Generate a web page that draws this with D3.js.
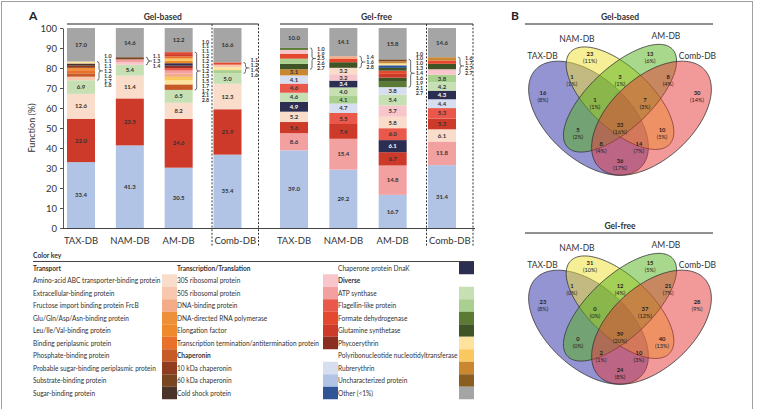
<!DOCTYPE html>
<html><head><meta charset="utf-8">
<script src="https://cdn.jsdelivr.net/npm/d3@7"></script>
<style>
body{margin:0;background:#fff}
svg{display:block;font-family:Lato,"Open Sans","Liberation Sans",sans-serif}
</style></head>
<body><svg id="c" width="758" height="409"></svg>
<script>
// ---------------- DATA ----------------
const dbs = ["TAX-DB","NAM-DB","AM-DB","Comb-DB"];
const groups = ["Gel-based","Gel-free"];
const yTicks = [0,10,20,30,40,50,60,70,80,90,100];

// colour-key categories (code -> label)
const transportCodes = ["T1","T2","T3","T4","T5","T6","T7","T8","T9","T10"];
const transportLabels = ["Amino-acid ABC transporter-binding protein","Extracellular-binding protein","Fructose import binding protein FrcB","Glu/Gln/Asp/Asn-binding protein","Leu/Ile/Val-binding protein","Binding periplasmic protein","Phosphate-binding protein","Probable sugar-binding periplasmic protein","Substrate-binding protein","Sugar-binding protein"];
const transcriptionCodes = ["R1","R2","R3","R4","R5","R6"];
const transcriptionLabels = ["30S ribosomal protein","50S ribosomal protein","DNA-binding protein","DNA-directed RNA polymerase","Elongation factor","Transcription termination/antitermination protein"];
const chaperoninCodes = ["C1","C2","C3","C4"];
const chaperoninLabels = ["10 kDa chaperonin","60 kDa chaperonin","Cold shock protein","Chaperone protein DnaK"];
const diverseCodes = ["D1","D2","D3","D4","D5","D6","D7","D8","D9"];
const diverseLabels = ["ATP synthase","Flagellin-like protein","Formate dehydrogenase","Glutamine synthetase","Phycoerythrin","Polyribonucleotide nucleotidyltransferase","Rubrerythrin","Uncharacterized protein","Other (<1%)"];

// stacked bars, bottom -> top: [category code, %]
const gelBasedTAX  = [["C2",33.4],["R5",22.0],["T1",12.6],["D1",6.9],["T2",1.8],["T7",1.7],["T6",1.6],["T4",1.2],["T8",1.1],["T10",1.1],["D5",1.0],["D9",17.0]];
const gelBasedNAM  = [["C2",41.3],["R5",23.5],["T1",11.4],["D1",5.4],["R1",1.4],["R2",1.3],["T9",1.1],["D9",14.6]];
const gelBasedAM   = [["C2",30.5],["R5",24.6],["T1",8.2],["D1",6.5],["T7",2.8],["D5",2.1],["D6",1.7],["T3",1.7],["R2",1.5],["R3",1.3],["R6",1.2],["C4",1.2],["T5",1.2],["D6",1.2],["T6",1.1],["R5",1.1],["R4",1.0],["D9",12.2]];
const gelBasedComb = [["C2",35.4],["R5",21.9],["T1",12.3],["D1",5.0],["D2",1.6],["D5",1.4],["T2",1.2],["R4",1.1],["D9",16.6]];
const gelFreeTAX   = [["C2",39.0],["R2",8.6],["R5",5.6],["T1",5.2],["C4",4.9],["D1",4.6],["R3",4.6],["C1",4.1],["D7",3.1],["D4",2.7],["D2",2.6],["R4",2.5],["R1",1.9],["D3",1.0],["D9",10.0]];
const gelFreeNAM   = [["C2",29.2],["R2",15.4],["R5",7.4],["R3",5.5],["C1",4.7],["D2",4.1],["D1",4.0],["C4",3.4],["R1",3.2],["T1",3.2],["D4",2.8],["R4",1.6],["T3",1.4],["D9",14.1]];
const gelFreeAM    = [["C2",16.7],["R2",14.8],["R5",6.7],["C4",6.1],["R3",6.0],["T1",5.8],["R1",5.7],["D1",5.4],["C1",3.8],["D3",2.7],["D4",2.1],["R5",1.9],["R4",1.6],["D4",1.4],["C3",1.3],["D5",1.0],["D7",1.0],["T9",1.0],["D9",15.8]];
const gelFreeComb  = [["C2",31.4],["R2",11.8],["T1",6.1],["R5",5.3],["R3",5.3],["C1",4.4],["C4",4.3],["D1",4.2],["D2",3.8],["R1",2.7],["D4",2.7],["R4",1.7],["D7",1.6],["D9",14.6]];

// Venn
const vennSets = ["TAX-DB","NAM-DB","AM-DB","Comb-DB"];
const vennRegions = ["A","B","C","D","AB","BC","CD","ABC","BCD","ABCD","AC","BD","ACD","ABD","AD"];
const gelBasedCounts = [16,23,13,30,1,3,8,1,7,33,5,10,8,14,36];
const gelBasedPct    = [8,11,6,14,1,1,4,1,3,16,2,5,4,7,17];
const gelFreeCounts  = [23,31,15,28,1,12,21,0,37,59,0,40,2,10,24];
const gelFreePct     = [8,10,5,9,0,4,7,0,12,20,0,13,1,3,8];

// ---------------- STYLE / LAYOUT ----------------
const colorOf = {
  T1:"#f9dcc9",T2:"#f7c8ad",T3:"#f3ab88",T4:"#ee8f3a",T5:"#ef8a2c",T6:"#e9702a",T7:"#c75b28",T8:"#903c1e",T9:"#7a4622",T10:"#4a3328",
  R1:"#f8c6ca",R2:"#f3a0a0",R3:"#e9584a",R4:"#e4482e",R5:"#cd3a29",R6:"#8b2e22",
  C1:"#d7def0",C2:"#b1c4e6",C3:"#2f5597",C4:"#2b2e50",
  D1:"#c6e0b4",D2:"#a9d08e",D3:"#5b7b34",D4:"#3f5526",D5:"#fde39e",D6:"#f9c85e",D7:"#c9882f",D8:"#8a5e20",D9:"#a5a5a5"
};
const darkCodes = new Set(["C3","C4","D3","D4","T10","R6","T8"]);
const ink = "#333";
const narrow = 0.9; // horizontal squeeze to mimic a condensed face

const svg = d3.select("#c");
svg.append("rect").attr("x",1.5).attr("y",1.5).attr("width",751).attr("height",412)
  .attr("fill","none").attr("stroke","#a0a0a0");

function ntext(sel, x, yy, s){
  return sel.append("text").attr("transform",`translate(${x},${yy}) scale(${narrow},1)`).text(s);
}

// ---------------- PANEL A ----------------
const y = d3.scaleLinear().domain([0,100]).range([228,28]);
const xs = {
  "Gel-based": d3.scalePoint().domain(dbs).range([81,227.5]),
  "Gel-free":  d3.scalePoint().domain(dbs).range([294,442])
};
const barW = 28;
const bars = {
  "Gel-based": [gelBasedTAX,gelBasedNAM,gelBasedAM,gelBasedComb],
  "Gel-free":  [gelFreeTAX,gelFreeNAM,gelFreeAM,gelFreeComb]
};

svg.append("text").attr("x",29).attr("y",20).attr("font-size",12).attr("font-weight","bold").attr("fill","#222").text("A");

const yAxis = svg.append("g").attr("transform","translate(63,0)")
  .call(d3.axisLeft(y).tickValues(yTicks).tickSize(3).tickSizeOuter(0));
yAxis.selectAll("text").attr("font-size",9.5).attr("fill",ink).attr("font-family","Lato,sans-serif");
yAxis.selectAll("line,path").attr("stroke","#555");
svg.append("text").attr("transform",`translate(35,${y(50)}) rotate(-90)`).attr("text-anchor","middle")
  .attr("font-size",9).attr("fill",ink).text("Function (%)");

svg.append("line").attr("x1",63).attr("x2",475).attr("y1",y(0)+0.5).attr("y2",y(0)+0.5).attr("stroke","#444").attr("stroke-width",1.2);

groups.forEach(g=>{
  const x = xs[g];
  const left = x(dbs[0]) - barW/2, combLeft = x("Comb-DB") - barW/2;
  const boxL = combLeft - 1.5, boxR = combLeft + 45;
  svg.append("line").attr("x1",left).attr("x2",boxR).attr("y1",24).attr("y2",24).attr("stroke","#222").attr("stroke-width",1);
  svg.append("text").attr("x",(left+boxR)/2).attr("y",20).attr("text-anchor","middle").attr("font-size",8.5)
    .attr("font-weight","bold").attr("fill",ink).text(g);
  [boxL, boxR].forEach(xx=>svg.append("line").attr("x1",xx).attr("x2",xx).attr("y1",24).attr("y2",246)
     .attr("stroke","#333").attr("stroke-dasharray","2,1.6").attr("stroke-width",1));
  bars[g].forEach((segs,i)=>{
    const db = dbs[i];
    const cx = x(db), x0 = cx - barW/2;
    const total = d3.sum(segs, d=>d[1]);
    let cum = 0;
    const rows = segs.map(([code,v])=>{const r={code,v,a:cum/total*100,b:(cum+v)/total*100}; cum+=v; return r;});
    const gb = svg.append("g");
    gb.selectAll("rect").data(rows).join("rect")
      .attr("x",x0).attr("width",barW).attr("y",d=>y(d.b)).attr("height",d=>y(d.a)-y(d.b))
      .attr("fill",d=>colorOf[d.code]);
    gb.selectAll("text").data(rows.filter(d=>d.v>=3)).join("text")
      .attr("x",cx).attr("y",d=>y((d.a+d.b)/2)+2.1).attr("text-anchor","middle")
      .attr("font-size",6).attr("font-weight","bold")
      .attr("fill",d=>darkCodes.has(d.code)?"#fff":ink).text(d=>d.v.toFixed(1));
    const small = rows.filter(d=>d.v<3);
    if(small.length){
      const yt = y(d3.max(small,d=>d.b)), ybt = y(d3.min(small,d=>d.a));
      const ym = (yt+ybt)/2, bx = x0 + barW + 2;
      svg.append("path").attr("fill","none").attr("stroke","#444").attr("stroke-width",0.8)
        .attr("d",`M${bx},${yt} Q${bx+2},${yt} ${bx+2},${yt+2} L${bx+2},${ym-2} Q${bx+2},${ym} ${bx+4},${ym} L${bx+6},${ym} M${bx+4},${ym} Q${bx+2},${ym} ${bx+2},${ym+2} L${bx+2},${ybt-2} Q${bx+2},${ybt} ${bx},${ybt}`);
      const vals = small.map(d=>d.v).sort((a,b)=>a-b);
      const step = 4.9, start = ym - step*(vals.length-1)/2;
      svg.append("g").selectAll("text").data(vals).join("text")
        .attr("x",bx+7).attr("y",(d,k)=>start+k*step+1.9).attr("font-size",5.4).attr("font-weight","bold")
        .attr("fill",ink).text(d=>d.toFixed(1));
    }
    const lx = db==="Comb-DB" ? (boxL+boxR)/2 : cx;
    svg.append("text").attr("x",lx).attr("y",244).attr("text-anchor","middle").attr("font-size",9.5)
      .attr("fill",ink).text(db);
  });
});

// ---------------- COLOR KEY ----------------
const keyTop = 268, rowH = 12.5;
ntext(svg,33,258,"Color key").attr("font-size",7.5).attr("font-weight","bold").attr("fill",ink);
svg.append("line").attr("x1",33).attr("x2",474).attr("y1",261.5).attr("y2",261.5).attr("stroke","#444").attr("stroke-width",1);
const keyCols = [
  {tx:33, sx:162, rows:[{h:"Transport"}].concat(transportCodes.map((c,i)=>({c,l:transportLabels[i]})))},
  {tx:177, sx:323, rows:[{h:"Transcription/Translation"}].concat(transcriptionCodes.map((c,i)=>({c,l:transcriptionLabels[i]})))
      .concat([{h:"Chaperonin"}]).concat(chaperoninCodes.slice(0,3).map((c,i)=>({c,l:chaperoninLabels[i]})))},
  {tx:338, sx:459, rows:[{c:"C4",l:chaperoninLabels[3]},{h:"Diverse"}].concat(diverseCodes.map((c,i)=>({c,l:diverseLabels[i]})))}
];
keyCols.forEach(col=>{
  col.rows.forEach((r,i)=>{
    const yc = keyTop + i*rowH;
    if(r.c) svg.append("rect").attr("x",col.sx).attr("y",yc-rowH/2).attr("width",15).attr("height",rowH)
      .attr("fill",colorOf[r.c]);
    ntext(svg,col.tx,yc+2.6,r.h||r.l).attr("font-size",7.3)
      .attr("font-weight",r.h?"bold":"normal").attr("fill",ink);
  });
});

// ---------------- PANEL B (Venn) ----------------
svg.append("text").attr("x",511).attr("y",20).attr("font-size",12).attr("font-weight","bold").attr("fill","#222").text("B");
const r2 = Math.SQRT1_2;
const ellipses = [
  {cx:0.35, cy:0.47, a:0.35, b:0.20, M:[-r2, r2]},
  {cx:0.50, cy:0.57, a:0.33, b:0.15, M:[-r2, r2]},
  {cx:0.50, cy:0.57, a:0.35, b:0.15, M:[ r2, r2]},
  {cx:0.65, cy:0.47, a:0.35, b:0.20, M:[ r2, r2]}
];
const regionAnchor = [[0.133,0.581],[0.357,0.776],[0.643,0.776],[0.867,0.581],[0.271,0.661],[0.5,0.661],[0.729,0.661],
  [0.381,0.546],[0.619,0.546],[0.5,0.421],[0.3,0.396],[0.7,0.396],[0.41,0.326],[0.59,0.326],[0.5,0.241]];
const vennFill = ["#2a2aa8","#efdf2d","#51b117","#e53535"];

function drawVenn(title, counts, pct, oy){
  const Sx = 210, Sy = 200, ox = 515;
  const px = u => ox + u*Sx, py = v => oy - v*Sy;
  const top = oy - 0.826*Sy;
  svg.append("text").attr("x",620).attr("y",top-27).attr("text-anchor","middle").attr("font-size",8.5)
    .attr("font-weight","bold").attr("fill",ink).text(title);
  svg.append("line").attr("x1",525).attr("x2",713).attr("y1",top-23).attr("y2",top-23).attr("stroke","#222");
  const line = d3.line().curve(d3.curveLinearClosed);
  ellipses.forEach((e,k)=>{
    const pts = d3.range(0, 2*Math.PI, Math.PI/90).map(t=>{
      const u = e.cx + e.a*Math.cos(t)*e.M[0] - e.b*Math.sin(t)*e.M[1];
      const v = e.cy + e.a*Math.cos(t)*e.M[1] + e.b*Math.sin(t)*e.M[0];
      return [px(u), py(v)];
    });
    svg.append("path").attr("d",line(pts)).attr("fill",vennFill[k]).attr("fill-opacity",0.5)
      .attr("stroke","#333").attr("stroke-width",0.8);
    const endU = e.cx + e.a*e.M[0], endV = e.cy + e.a*e.M[1];
    svg.append("text").attr("x",px(endU) + (e.M[0]<0?6:-6)).attr("y",py(endV)-10)
      .attr("text-anchor","middle").attr("font-size",8.5).attr("fill",ink).text(vennSets[k]);
  });
  vennRegions.forEach((r,i)=>{
    const X = px(regionAnchor[i][0]), Y = py(regionAnchor[i][1]);
    svg.append("text").attr("x",X).attr("y",Y-0.8).attr("text-anchor","middle").attr("font-size",5.8)
      .attr("font-weight","bold").attr("fill","#222").text(counts[i]);
    svg.append("text").attr("x",X).attr("y",Y+6.2).attr("text-anchor","middle").attr("font-size",5.6)
      .attr("fill","#222").text(`(${pct[i]}%)`);
  });
}
drawVenn("Gel-based", gelBasedCounts, gelBasedPct, 212.2);
drawVenn("Gel-free", gelFreeCounts, gelFreePct, 421.2);
</script></body></html>
